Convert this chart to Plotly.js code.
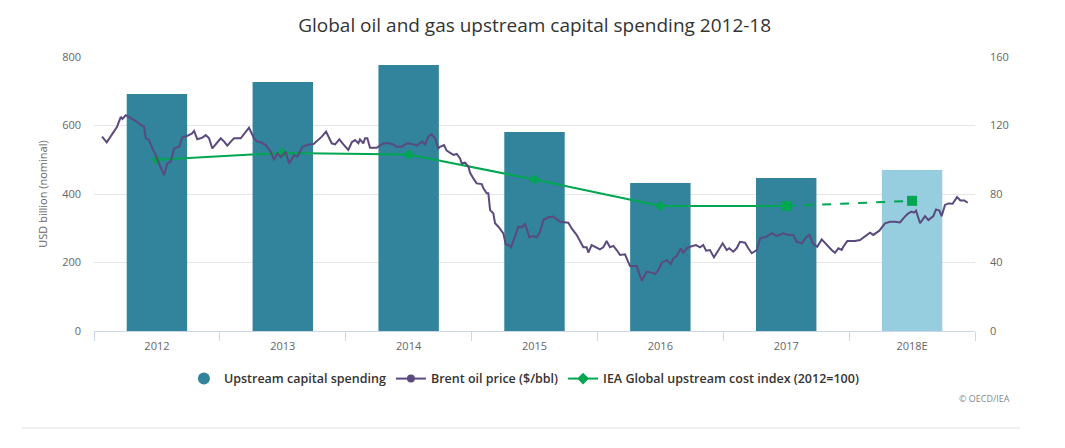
<!DOCTYPE html>
<html>
<head>
<meta charset="utf-8">
<script src="https://cdn.plot.ly/plotly-3.0.1.min.js"></script>
<style>
html,body{margin:0;padding:0;background:#fff;}
#chart{width:1065px;height:448px;}
</style>
</head>
<body>
<div id="chart"></div>
<script>
// Categories and series
const years = ['2012','2013','2014','2015','2016','2017','2018E'];
const capex = [692, 727, 777, 581, 432, 447, 470];           // USD billion (nominal)
const costIndex = [100, 104, 103, 88.5, 73, 73, 76];          // IEA upstream cost index (2012=100)

// Brent oil price ($/bbl), time in decimal years
const brentT = [2011.985,2012.020,2012.097,2012.125,2012.137,2012.162,2012.199,2012.237,2012.274,2012.299,2012.311,2012.336,2012.360,2012.386,2012.410,2012.448,2012.472,2012.498,2012.522,2012.560,2012.584,2012.622,2012.657,2012.672,2012.696,2012.734,2012.759,2012.784,2012.808,2012.834,2012.871,2012.896,2012.920,2012.946,2012.970,2013.020,2013.057,2013.082,2013.119,2013.144,2013.169,2013.207,2013.244,2013.269,2013.293,2013.319,2013.356,2013.381,2013.418,2013.443,2013.480,2013.530,2013.562,2013.599,2013.625,2013.657,2013.674,2013.699,2013.724,2013.756,2013.786,2013.823,2013.849,2013.873,2013.898,2013.910,2013.935,2013.948,2013.965,2013.985,2014.035,2014.060,2014.084,2014.122,2014.159,2014.184,2014.222,2014.246,2014.271,2014.308,2014.333,2014.371,2014.396,2014.420,2014.445,2014.470,2014.495,2014.507,2014.537,2014.557,2014.582,2014.607,2014.632,2014.657,2014.669,2014.694,2014.719,2014.731,2014.756,2014.781,2014.819,2014.831,2014.856,2014.868,2014.881,2014.905,2014.918,2014.943,2014.980,2014.998,2015.017,2015.037,2015.067,2015.092,2015.117,2015.142,2015.174,2015.204,2015.229,2015.254,2015.278,2015.316,2015.353,2015.383,2015.403,2015.465,2015.490,2015.528,2015.577,2015.602,2015.614,2015.639,2015.677,2015.701,2015.726,2015.751,2015.776,2015.801,2015.826,2015.851,2015.888,2015.925,2015.975,2016.012,2016.050,2016.087,2016.112,2016.137,2016.162,2016.199,2016.229,2016.249,2016.274,2016.304,2016.323,2016.348,2016.373,2016.418,2016.448,2016.472,2016.493,2016.522,2016.552,2016.584,2016.617,2016.647,2016.666,2016.696,2016.721,2016.746,2016.784,2016.808,2016.834,2016.871,2016.896,2016.946,2016.983,2017.020,2017.069,2017.107,2017.144,2017.169,2017.207,2017.244,2017.264,2017.289,2017.323,2017.356,2017.393,2017.430,2017.455,2017.480,2017.505,2017.517,2017.547,2017.604,2017.642,2017.679,2017.716,2017.741,2017.786,2017.828,2017.866,2017.903,2017.940,2017.978,2018.002,2018.027,2018.045,2018.060,2018.090,2018.127,2018.152,2018.189,2018.209,2018.234,2018.251,2018.276,2018.301,2018.333,2018.366,2018.391,2018.421,2018.446];
const brentV = [113.5,110.2,119.3,125.0,123.8,126.0,124.3,122.6,120.3,119.3,112.5,111.5,106.6,102.7,97.8,91.0,97.8,99.0,106.6,107.6,113.0,114.0,115.4,116.8,112.0,112.9,114.4,112.5,106.6,109.0,112.5,110.6,108.2,110.6,112.5,112.5,116.4,118.7,112.5,110.6,110.2,108.6,104.7,99.8,103.8,101.6,104.7,97.8,102.7,101.8,107.6,109.0,109.0,111.5,113.5,116.4,113.5,109.6,109.0,111.9,109.0,105.7,110.2,111.5,109.6,111.9,109.6,112.5,112.5,107.0,107.0,108.2,109.6,109.6,109.0,107.6,107.6,109.0,109.6,109.0,108.2,110.6,109.0,113.5,114.8,112.5,106.6,107.6,108.6,105.3,103.8,102.8,103.4,100.8,97.9,98.3,96.0,92.5,89.1,86.2,85.8,83.3,80.4,80.4,70.6,68.7,62.9,60.9,57.0,50.6,50.2,48.9,55.1,60.9,60.5,62.5,54.7,55.5,54.7,58.0,64.8,66.4,66.8,65.2,63.8,63.2,59.9,56.0,48.9,48.9,45.8,50.2,48.9,47.7,48.9,52.5,48.9,49.7,47.3,44.4,44.8,37.9,37.9,29.4,34.6,34.1,33.3,35.6,39.9,41.4,39.1,42.4,43.8,48.2,45.7,48.3,49.2,50.2,48.9,50.2,46.9,47.3,43.0,46.9,51.2,47.3,48.3,46.3,48.3,52.1,51.6,48.3,45.4,47.3,54.1,55.1,57.1,55.5,57.1,56.1,56.1,52.1,51.2,55.1,56.1,51.2,49.2,53.5,50.2,47.3,45.7,48.3,47.3,49.2,52.5,52.5,53.1,55.4,57.4,56.1,58.6,62.9,63.8,63.8,63.4,66.9,68.7,69.7,69.1,70.3,62.9,67.1,64.8,67.1,71.0,70.3,67.1,73.6,74.5,74.3,78.2,76.2,76.2,74.9];

const tealC = '#31849b', lightC = '#96cddf', purpleC = '#5b4a7e', greenC = '#00a651';
const font = 'Open Sans, sans-serif';

const traces = [
  {type:'bar', x: years, y: capex, xaxis:'x', yaxis:'y', width:0.48,
   marker:{color: years.map((y,i)=> i===years.length-1 ? lightC : tealC)},
   showlegend:false, hoverinfo:'x+y'},
  {type:'scatter', mode:'lines', x: brentT, y: brentV, xaxis:'x2', yaxis:'y2',
   line:{color:purpleC, width:2}, showlegend:false},
  {type:'scatter', mode:'lines+markers', x: years.slice(0,5), y: costIndex.slice(0,5), xaxis:'x', yaxis:'y2',
   line:{color:greenC, width:2},
   marker:{color:greenC, symbol:'diamond', size:8, line:{width:0, color:greenC}},
   showlegend:false},
  {type:'scatter', mode:'lines+markers', x: years.slice(4,6), y: costIndex.slice(4,6), xaxis:'x', yaxis:'y2',
   line:{color:greenC, width:2},
   marker:{color:greenC, symbol:'square', size:[0,10], line:{width:0, color:greenC}},
   showlegend:false},
  {type:'scatter', mode:'lines+markers', x: years.slice(5), y: costIndex.slice(5), xaxis:'x', yaxis:'y2',
   line:{color:greenC, width:2, dash:'dash'},
   marker:{color:greenC, symbol:'square', size:10, line:{width:0, color:greenC}}, showlegend:false},
  // legend entries
  {type:'scatter', mode:'markers', x:[null], y:[null], xaxis:'x', yaxis:'y', name:'Upstream capital spending',
   marker:{color:tealC, symbol:'circle', size:12}},
  {type:'scatter', mode:'lines+markers', x:[null], y:[null], xaxis:'x', yaxis:'y', name:'Brent oil price ($/bbl)',
   line:{color:purpleC, width:2}, marker:{color:purpleC, symbol:'circle', size:8}},
  {type:'scatter', mode:'lines+markers', x:[null], y:[null], xaxis:'x', yaxis:'y', name:'IEA Global upstream cost index (2012=100)',
   line:{color:greenC, width:2}, marker:{color:greenC, symbol:'diamond', size:9, line:{width:0}}}
];

const layout = {
  width:1065, height:448,
  margin:{l:94, r:90, t:57, b:117},
  paper_bgcolor:'#fff', plot_bgcolor:'#fff',
  font:{family:font, color:'#666', size:11},
  title:{text:'Global oil and gas upstream capital spending 2012-18', x:0.502, xanchor:'center', y:0.944, yanchor:'middle',
         font:{family:font, size:19, color:'#333'}},
  xaxis:{type:'category', categoryorder:'array', categoryarray:years, range:[-0.5,6.5],
         showline:true, linecolor:'#ccd6eb', linewidth:1, ticks:'outside', tickson:'boundaries', ticklen:9, tickcolor:'#ccd6eb',
         ticklabelstandoff:5, showgrid:false, tickfont:{size:11, color:'#666'}, fixedrange:true},
  xaxis2:{overlaying:'x', type:'linear', range:[2011.925, 2018.5], visible:false, showgrid:false},
  yaxis:{range:[0,800], dtick:200, showgrid:true, gridcolor:'#e6e6e6', gridwidth:1, zeroline:false,
         showline:false, ticks:'', ticklabelstandoff:12, tickfont:{size:11, color:'#666'},
         title:{text:'USD billion (nominal)', standoff:12, font:{size:11, color:'#666'}}},
  yaxis2:{overlaying:'y', side:'right', range:[0,160], dtick:40, showgrid:false, zeroline:false,
          showline:false, ticks:'', ticklabelstandoff:14, tickfont:{size:11, color:'#666'}},
  legend:{orientation:'h', x:0.488, xanchor:'center', y:-0.175, yanchor:'middle',
          font:{family:font, size:12.5, color:'#333', weight:600}, bgcolor:'rgba(0,0,0,0)', itemwidth:30, traceorder:'normal'},
  annotations:[{text:'© OECD/IEA', xref:'paper', yref:'paper', x:1.042, y:-0.245, xanchor:'right', yanchor:'middle',
                showarrow:false, font:{family:font, size:9, color:'#888'}}],
  shapes:[{type:'line', xref:'paper', yref:'paper', x0:-0.0817, x1:1.051, y0:-0.354, y1:-0.354,
           line:{color:'#e3e3e3', width:1}}],
  showlegend:true
};

Plotly.newPlot('chart', traces, layout, {displayModeBar:false, staticPlot:true});
</script>
</body>
</html>
